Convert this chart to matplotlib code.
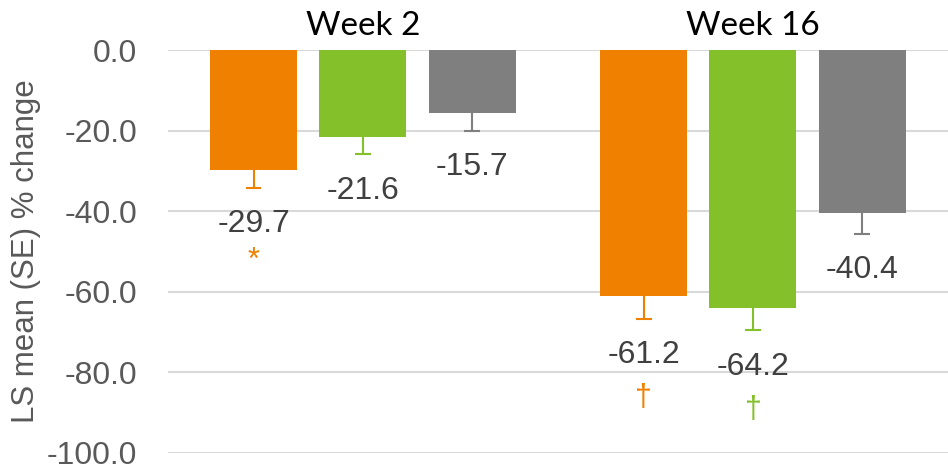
import matplotlib.pyplot as plt
import numpy as np

plt.rcParams['font.family'] = ['Liberation Sans', 'DejaVu Sans']

#-------------------------------------------------------------------------------
weeks = ['Week 2', 'Week 16']
means = {'orange': [-29.7, -61.2], 'green': [-21.6, -64.2], 'gray': [-15.7, -40.4]}
se = {'orange': [4.5, 5.5], 'green': [4.3, 5.4], 'gray': [4.3, 5.3]}
marks = {'orange': ['*', '\u2020'], 'green': ['', '\u2020'], 'gray': ['', '']}
colors = {'orange': '#F08000', 'green': '#84C02A', 'gray': '#7F7F7F'}
yticks = [0, -20, -40, -60, -80, -100]

#-------------------------------------------------------------------------------
fig = plt.figure(figsize=(9.48, 4.68), dpi=100)
ax = fig.add_axes([0.177, 0.033, 0.823, 0.860])

x = np.arange(len(weeks))
width = 0.223
step = 0.28
cap = 0.04
for i, key in enumerate(['orange', 'green', 'gray']):
    xs = x + (i - 1) * step
    ax.bar(xs, means[key], width, color=colors[key], zorder=2)
    for xv, m, s, mk in zip(xs, means[key], se[key], marks[key]):
        # one-sided error bar, downwards only
        ax.vlines(xv, m - s, m, color=colors[key], linewidth=1.5, zorder=3)
        ax.hlines(m - s, xv - cap / 2, xv + cap / 2, color=colors[key],
                  linewidth=1.5, zorder=3)
        ax.text(xv, m - s - 5.3, '%.1f' % m, ha='center', va='top',
                fontsize=23, color='#404040', zorder=4)
        if mk == '*':
            ax.text(xv, m - s - 14.5, mk, ha='center', va='top',
                    fontsize=22, color=colors[key], zorder=4)
        elif mk:
            ax.text(xv, m - s - 16, mk, ha='center', va='top',
                    fontsize=22, color=colors[key], zorder=4)

for xv, w in zip(x, weeks):
    ax.text(xv, 3.7, w, ha='center', va='baseline', fontsize=24, color='black',
            family=['Lato', 'DejaVu Sans'], clip_on=False)

ax.set_xlim(-0.5, 1.5)
ax.set_ylim(-100, 0)
ax.set_yticks(yticks)
ax.set_yticklabels(['%.1f' % v for v in yticks], fontsize=23, color='#595959')
ax.set_xticks([])
ax.tick_params(axis='y', length=0, pad=22)
ax.yaxis.grid(True, color='#D9D9D9', linewidth=1.5, zorder=0)
ax.set_axisbelow(True)
for sp in ax.spines.values():
    sp.set_visible(False)
ax.set_ylabel('LS mean (SE) % change', fontsize=22.5, color='#595959', labelpad=4)

plt.savefig('out.png', dpi=100)
